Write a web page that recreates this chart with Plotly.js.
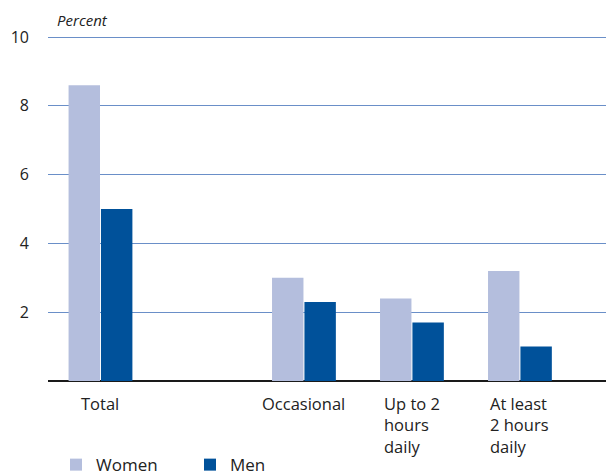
<!DOCTYPE html>
<html>
<head>
<meta charset="utf-8">
<script src="https://cdn.plot.ly/plotly-3.0.1.min.js"></script>
<style>html,body{margin:0;padding:0;background:#fff;}#chart{width:606px;height:473px;}</style>
</head>
<body>
<div id="chart"></div>
<script>
var categories = ['Total', 'Occasional', 'Up to 2<br>hours<br>daily', 'At least<br>2 hours<br>daily'];
var women = [8.6, 3.0, 2.4, 3.2];
var men = [5.0, 2.3, 1.7, 1.0];
var seriesNames = ['Women', 'Men'];
var yTicks = [2, 4, 6, 8, 10];

// Total stands apart from the frequency groups
var xPos = categories.map(function (c, i) { return i === 0 ? 0 : i + 0.884; });

var FONT = 'Open Sans, sans-serif';
var traces = [
  { type: 'bar', name: seriesNames[0], x: xPos, y: women, marker: { color: '#b4bedd' }, hoverinfo: 'y' },
  { type: 'bar', name: seriesNames[1], x: xPos, y: men, marker: { color: '#00519a' }, hoverinfo: 'y' }
];

var annotations = categories.map(function (c, i) {
  return { x: xPos[i], y: 0, xref: 'x', yref: 'paper', text: c, showarrow: false,
    xanchor: 'center', yanchor: 'top', align: 'left', yshift: -9,
    font: { family: FONT, size: 16.5, color: '#222' } };
});
annotations.push({ x: 7 / 558, y: 1, xref: 'paper', yref: 'paper', text: '<i>Percent</i>', showarrow: false,
  xanchor: 'left', yanchor: 'bottom', yshift: 3, font: { family: FONT, size: 15, color: '#222' } });

var layout = {
  width: 606, height: 473,
  margin: { l: 48, r: 0, t: 35, b: 92, autoexpand: false },
  paper_bgcolor: '#fff', plot_bgcolor: '#fff',
  barmode: 'group', bargap: 0.4, bargroupgap: 0.03,
  showlegend: true,
  legend: { orientation: 'h', x: 8 / 558, xanchor: 'left', y: -0.243, yanchor: 'middle',
    font: { family: FONT, size: 17, color: '#222' }, entrywidth: 89, traceorder: 'normal' },
  xaxis: { range: [-0.486, 4.681], showticklabels: false, ticks: '', showgrid: false, zeroline: false, showline: false },
  yaxis: { range: [0, 10.06], tickvals: yTicks, ticktext: yTicks.map(String), showgrid: true,
    gridcolor: '#6a8fc8', gridwidth: 1, zeroline: true, zerolinecolor: '#1a1a1a', zerolinewidth: 2,
    ticks: '', ticklabelstandoff: 18, showline: false,
    tickfont: { family: FONT, size: 16, color: '#222' } },
  annotations: annotations
};

Plotly.newPlot('chart', traces, layout, { displayModeBar: false, staticPlot: true });
</script>
</body>
</html>
